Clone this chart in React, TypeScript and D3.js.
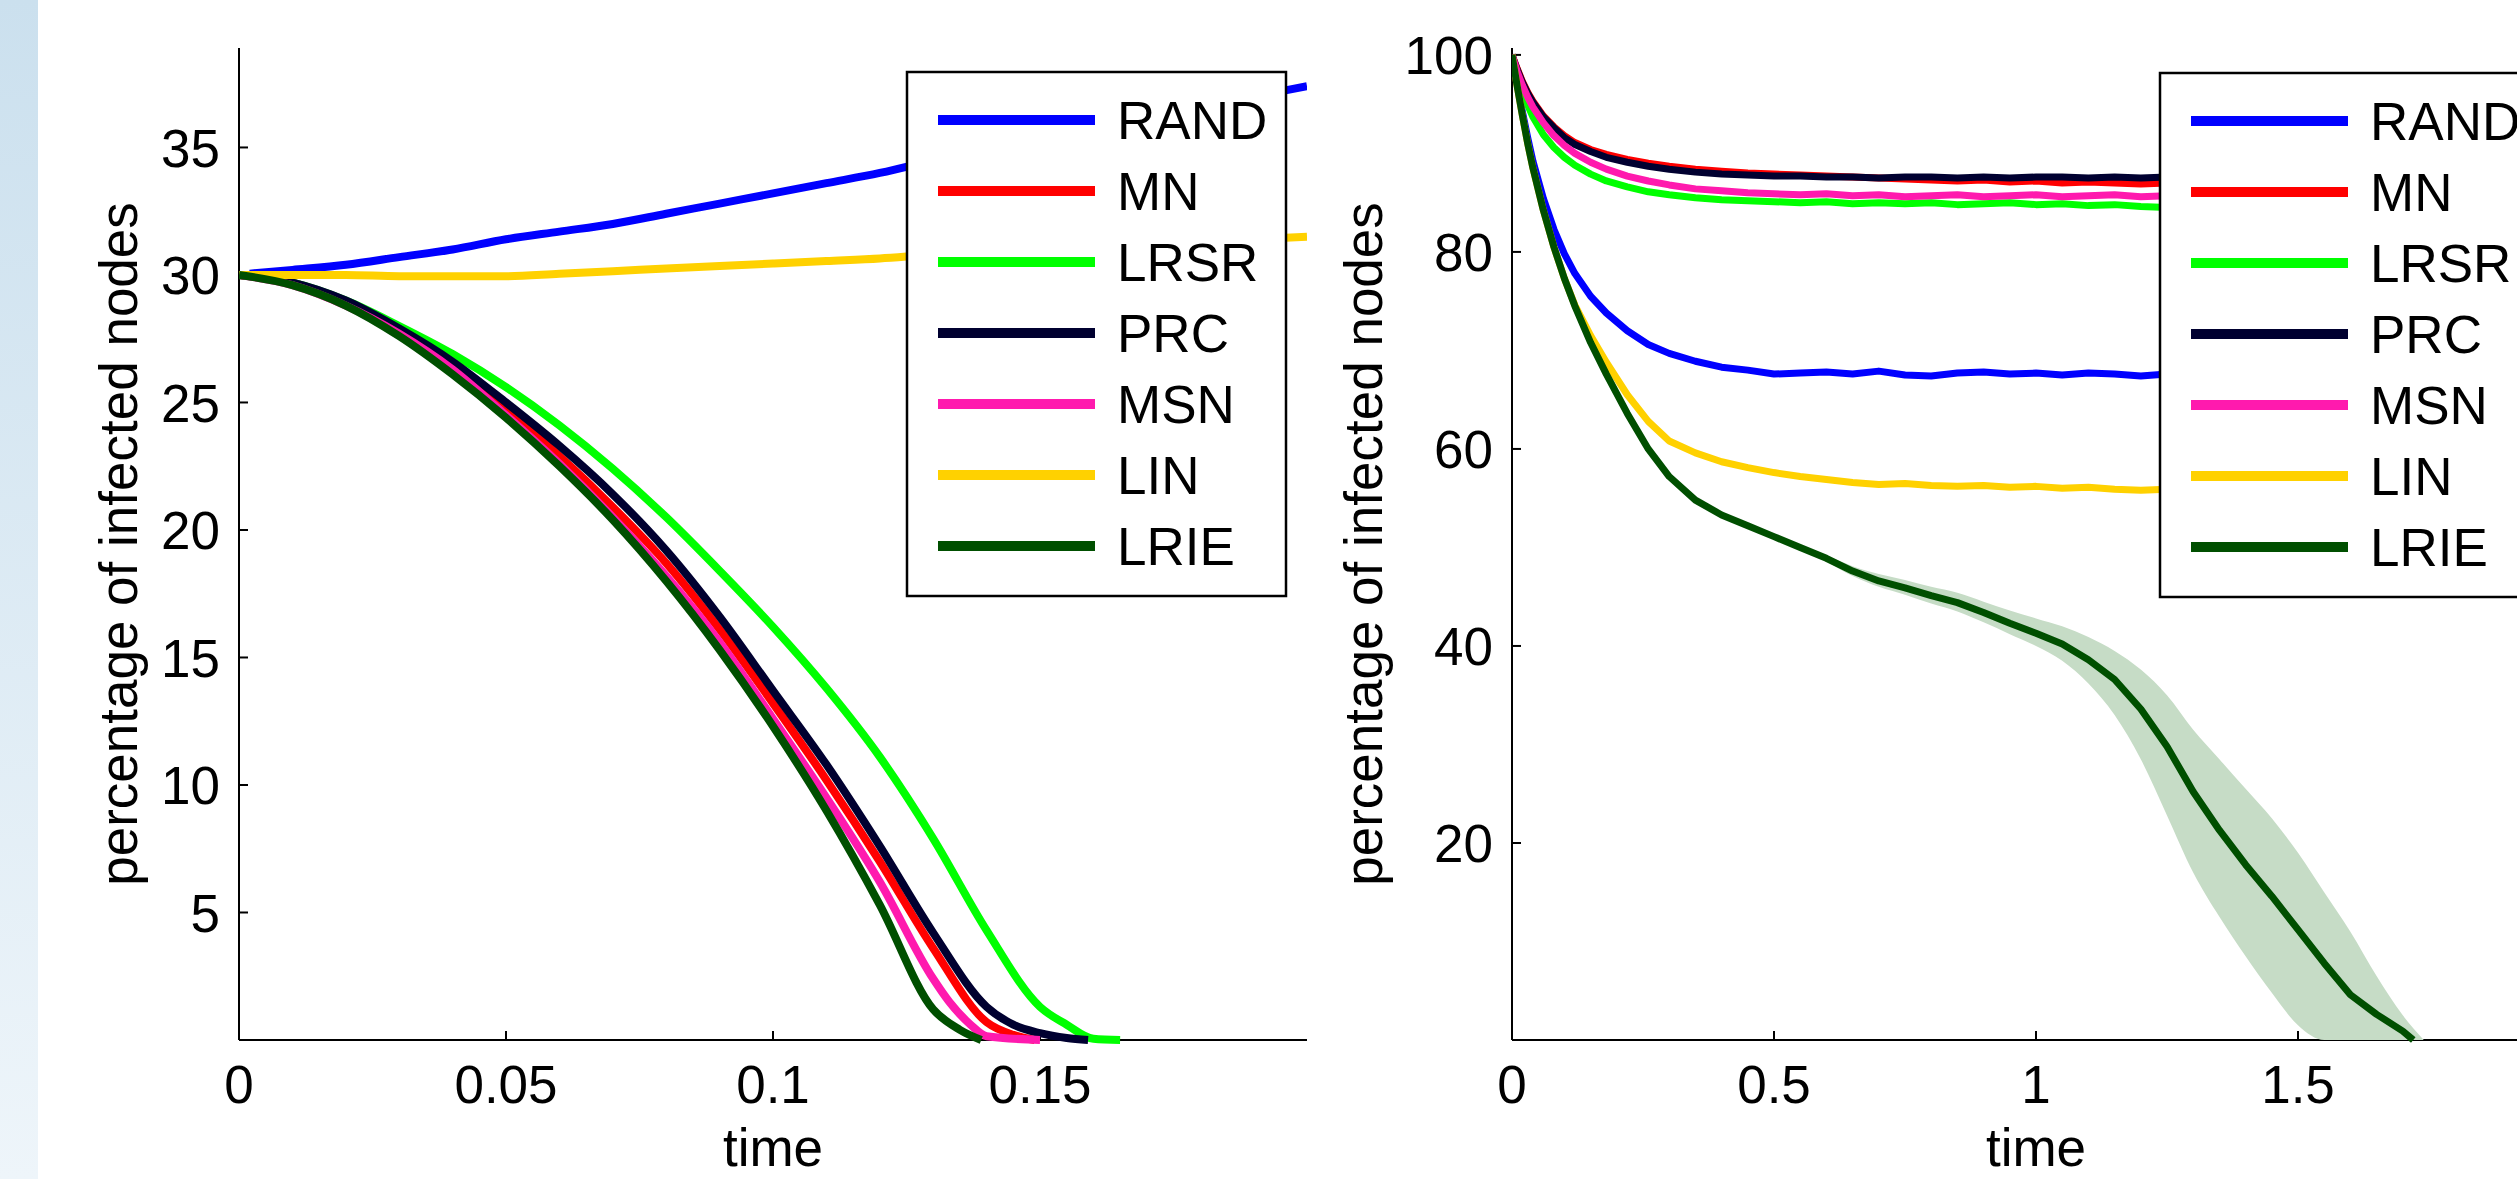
import React from "react";
import * as d3 from "d3";

// ---- data ----
const seriesNames = ["RAND", "MN", "LRSR", "PRC", "MSN", "LIN", "LRIE"];
const seriesColors = ["#0000ff", "#ff0000", "#00ff00", "#000030", "#ff1aae", "#ffd100", "#004f00"];

// left panel (short horizon)
const leftTicksX = [0, 0.05, 0.1, 0.15];
const leftTicksY = [5, 10, 15, 20, 25, 30, 35];

const leftRandT = [0.002, 0.01, 0.02, 0.03, 0.04, 0.05, 0.06, 0.07, 0.08, 0.09, 0.1, 0.11, 0.12, 0.13, 0.14, 0.15, 0.16, 0.17, 0.18, 0.19, 0.2];
const leftRandV = [30.05, 30.2, 30.4, 30.7, 31.0, 31.4, 31.7, 32.0, 32.4, 32.8, 33.2, 33.6, 34.0, 34.5, 35.0, 35.4, 35.8, 36.2, 36.6, 37.0, 37.4];

const leftLinT = [0, 0.01, 0.02, 0.03, 0.04, 0.05, 0.06, 0.07, 0.08, 0.09, 0.1, 0.11, 0.12, 0.13, 0.14, 0.15, 0.16, 0.17, 0.18, 0.19, 0.2];
const leftLinV = [30.0, 30.0, 30.0, 29.95, 29.95, 29.95, 30.05, 30.15, 30.25, 30.35, 30.45, 30.55, 30.65, 30.8, 30.9, 31.0, 31.1, 31.2, 31.3, 31.4, 31.5];

const leftMnT = [0, 0.01, 0.02, 0.03, 0.04, 0.05, 0.06, 0.07, 0.08, 0.09, 0.1, 0.11, 0.12, 0.13, 0.14, 0.145, 0.149];
const leftMnV = [30, 29.7, 28.9, 27.8, 26.4, 24.7, 22.9, 20.9, 18.7, 16.1, 13.2, 10.2, 7.0, 3.6, 0.7, 0.2, 0];

const leftPrcT = [0, 0.01, 0.02, 0.03, 0.04, 0.05, 0.06, 0.07, 0.08, 0.09, 0.1, 0.11, 0.12, 0.13, 0.14, 0.145, 0.15, 0.155, 0.159];
const leftPrcV = [30, 29.7, 29.0, 27.9, 26.6, 25.0, 23.3, 21.4, 19.2, 16.6, 13.7, 10.8, 7.6, 4.2, 1.3, 0.6, 0.27, 0.08, 0];

const leftMsnT = [0, 0.01, 0.02, 0.03, 0.04, 0.05, 0.06, 0.07, 0.08, 0.09, 0.1, 0.11, 0.12, 0.13, 0.133, 0.137, 0.14, 0.15];
const leftMsnV = [30, 29.6, 28.8, 27.7, 26.3, 24.5, 22.6, 20.5, 18.2, 15.6, 12.6, 9.5, 6.2, 2.4, 1.5, 0.6, 0.15, 0];

const leftLrsrT = [0, 0.01, 0.02, 0.03, 0.04, 0.05, 0.06, 0.07, 0.08, 0.09, 0.1, 0.11, 0.12, 0.13, 0.14, 0.15, 0.155, 0.16, 0.165];
const leftLrsrV = [30, 29.7, 29.0, 28.0, 26.9, 25.6, 24.1, 22.4, 20.5, 18.4, 16.2, 13.8, 11.1, 7.9, 4.3, 1.3, 0.6, 0.05, 0];

const leftLrieT = [0, 0.01, 0.02, 0.03, 0.04, 0.05, 0.06, 0.07, 0.08, 0.09, 0.1, 0.11, 0.12, 0.13, 0.135, 0.139];
const leftLrieV = [30, 29.6, 28.8, 27.6, 26.1, 24.4, 22.5, 20.4, 18.0, 15.3, 12.3, 9.0, 5.3, 1.2, 0.4, 0];

// right panel (long horizon)
const rightTicksX = [0, 0.5, 1, 1.5];
const rightTicksY = [20, 40, 60, 80, 100];

const rightT = [0, 0.01, 0.02, 0.03, 0.04, 0.06, 0.08, 0.1, 0.12, 0.15, 0.18, 0.22, 0.26, 0.3, 0.35, 0.4, 0.45, 0.5, 0.55, 0.6, 0.65, 0.7, 0.75, 0.8, 0.85, 0.9, 0.95, 1.0, 1.05, 1.1, 1.15, 1.2, 1.25, 1.3];
const rightRand = [100, 97.0, 94.2, 91.6, 89.2, 85.4, 82.3, 79.8, 77.8, 75.5, 73.8, 72.0, 70.6, 69.7, 68.9, 68.3, 68.0, 67.6, 67.7, 67.8, 67.6, 67.9, 67.5, 67.4, 67.7, 67.8, 67.6, 67.7, 67.5, 67.7, 67.6, 67.4, 67.6, 67.5];
const rightMn = [100, 98.6, 97.3, 96.2, 95.3, 93.8, 92.7, 91.8, 91.1, 90.4, 89.9, 89.4, 89.0, 88.7, 88.4, 88.2, 88.0, 87.9, 87.8, 87.7, 87.6, 87.5, 87.4, 87.3, 87.2, 87.3, 87.1, 87.2, 87.0, 87.1, 87.0, 86.9, 87.0, 86.9];
const rightLrsr = [100, 98.0, 96.3, 94.9, 93.7, 91.9, 90.6, 89.6, 88.8, 87.9, 87.2, 86.6, 86.1, 85.8, 85.5, 85.3, 85.2, 85.1, 85.0, 85.1, 84.9, 85.0, 84.9, 85.0, 84.8, 84.9, 85.0, 84.8, 84.9, 84.7, 84.8, 84.6, 84.5, 84.6];
const rightPrc = [100, 98.5, 97.2, 96.1, 95.2, 93.7, 92.6, 91.6, 90.9, 90.2, 89.6, 89.1, 88.7, 88.4, 88.1, 87.9, 87.8, 87.7, 87.7, 87.6, 87.6, 87.5, 87.6, 87.6, 87.5, 87.6, 87.5, 87.6, 87.6, 87.5, 87.6, 87.5, 87.6, 87.5];
const rightMsn = [100, 98.3, 96.9, 95.7, 94.7, 93.1, 91.8, 90.8, 90.0, 89.1, 88.4, 87.7, 87.2, 86.8, 86.4, 86.2, 86.0, 85.9, 85.8, 85.9, 85.7, 85.8, 85.6, 85.7, 85.8, 85.6, 85.7, 85.8, 85.6, 85.7, 85.8, 85.6, 85.7, 85.7];
const rightLin = [100, 96.8, 93.8, 91.0, 88.5, 84.2, 80.5, 77.3, 74.6, 71.5, 68.8, 65.5, 62.8, 60.8, 59.6, 58.7, 58.1, 57.6, 57.2, 56.9, 56.6, 56.4, 56.5, 56.3, 56.2, 56.3, 56.1, 56.2, 56.0, 56.1, 55.9, 55.8, 55.9, 55.8];

const rightLrieT = [0, 0.01, 0.02, 0.03, 0.04, 0.06, 0.08, 0.1, 0.12, 0.15, 0.18, 0.22, 0.26, 0.3, 0.35, 0.4, 0.45, 0.5, 0.55, 0.6, 0.65, 0.7, 0.75, 0.8, 0.85, 0.9, 0.95, 1.0, 1.05, 1.1, 1.15, 1.2, 1.25, 1.3, 1.35, 1.4, 1.45, 1.5, 1.55, 1.6, 1.65, 1.7, 1.72];
const rightLrie = [100, 96.8, 93.8, 91.0, 88.5, 84.2, 80.5, 77.3, 74.5, 70.8, 67.6, 63.6, 60.0, 57.2, 54.8, 53.3, 52.2, 51.1, 50.0, 48.9, 47.6, 46.6, 45.9, 45.1, 44.4, 43.4, 42.3, 41.3, 40.2, 38.6, 36.6, 33.6, 29.8, 25.2, 21.3, 17.8, 14.6, 11.2, 7.8, 4.6, 2.6, 0.9, 0];

// spread band around LRIE
const bandT = [0.6, 0.65, 0.7, 0.75, 0.8, 0.85, 0.9, 0.95, 1.0, 1.05, 1.1, 1.15, 1.2, 1.25, 1.3, 1.35, 1.4, 1.45, 1.5, 1.55, 1.6, 1.65, 1.7, 1.74];
const bandLow = [48.6, 47.1, 46.0, 45.2, 44.3, 43.5, 42.4, 41.2, 40.0, 38.5, 36.2, 33.0, 28.5, 22.8, 17.0, 12.5, 8.5, 4.8, 1.5, 0, 0, 0, 0, 0];
const bandHigh = [49.2, 48.1, 47.3, 46.7, 46.0, 45.4, 44.5, 43.6, 42.8, 42.0, 40.9, 39.5, 37.6, 35.0, 31.5, 28.5, 25.5, 22.5, 19.0, 15.0, 11.0, 6.5, 2.5, 0];

const W = 2517;
const H = 1179;
const FONT = "'Liberation Sans', Arial, sans-serif";
const FS = 53;

const zip = (t, v) => t.map((d, i) => [d, v[i]]);

function Panel({ id, xRange, xDomain, yDomain, xTicks, yTicks, series, band, labelX, legendX, legendY, lineWidth, curve }) {
  const top = 48, bottom = 1040;
  const x = d3.scaleLinear().domain(xDomain).range(xRange);
  const y = d3.scaleLinear().domain(yDomain).range([bottom, top]);
  const line = d3.line().curve(curve).x((d) => x(d[0])).y((d) => y(d[1]));
  const area = band
    ? d3.area().curve(d3.curveMonotoneX).x((d) => x(d.t)).y0((d) => y(d.lo)).y1((d) => y(d.hi))(
        band.t.map((t, i) => ({ t, lo: band.lo[i], hi: band.hi[i] }))
      )
    : null;
  const cx = (xRange[0] + xRange[1]) / 2;
  const legendW = 379, legendH = 524, rowH = 71;

  return (
    <g>
      <defs>
        <clipPath id={id}>
          <rect x={xRange[0]} y={top} width={xRange[1] - xRange[0]} height={bottom - top + 6} />
        </clipPath>
      </defs>

      {/* axes, ticks point inward */}
      <line x1={xRange[0]} x2={xRange[0]} y1={top} y2={bottom} stroke="#000" strokeWidth={2} />
      <line x1={xRange[0]} x2={xRange[1]} y1={bottom} y2={bottom} stroke="#000" strokeWidth={2} />
      {yTicks.map((t) => (
        <g key={"y" + t}>
          <line x1={xRange[0]} x2={xRange[0] + 9} y1={y(t)} y2={y(t)} stroke="#000" strokeWidth={2} />
          <text x={xRange[0] - 19} y={y(t)} dy="0.36em" textAnchor="end" fontSize={FS} fontFamily={FONT}>{t}</text>
        </g>
      ))}
      {xTicks.map((t) => (
        <g key={"x" + t}>
          <line x1={x(t)} x2={x(t)} y1={bottom} y2={bottom - 9} stroke="#000" strokeWidth={2} />
          <text x={x(t)} y={1103} textAnchor="middle" fontSize={FS} fontFamily={FONT}>{String(t)}</text>
        </g>
      ))}
      <text x={cx} y={1166} textAnchor="middle" fontSize={FS} fontFamily={FONT}>time</text>
      <text transform={`translate(${labelX},544) rotate(-90)`} dy="0.26em" textAnchor="middle" fontSize={FS} fontFamily={FONT}>
        percentage of infected nodes
      </text>

      {/* curves */}
      <g clipPath={`url(#${id})`}>
        {area && <path d={area} fill="#c6dcc6" />}
        {series.map((s, i) => (
          <path key={i} d={line(s)} fill="none" stroke={seriesColors[i]} strokeWidth={lineWidth} strokeLinejoin="round" />
        ))}
      </g>

      {/* legend */}
      <rect x={legendX} y={legendY} width={legendW} height={legendH} fill="#fff" stroke="#000" strokeWidth={2.5} />
      {seriesNames.map((n, i) => {
        const ly = legendY + 48 + i * rowH;
        return (
          <g key={n}>
            <line x1={legendX + 31} x2={legendX + 188} y1={ly} y2={ly} stroke={seriesColors[i]} strokeWidth={10} />
            <text x={legendX + 210} y={ly} dy="0.36em" fontSize={FS} fontFamily={FONT}>{n}</text>
          </g>
        );
      })}
    </g>
  );
}

export default function App() {
  const leftSeries = [
    zip(leftRandT, leftRandV),
    zip(leftMnT, leftMnV),
    zip(leftLrsrT, leftLrsrV),
    zip(leftPrcT, leftPrcV),
    zip(leftMsnT, leftMsnV),
    zip(leftLinT, leftLinV),
    zip(leftLrieT, leftLrieV),
  ];
  const rightSeries = [
    zip(rightT, rightRand),
    zip(rightT, rightMn),
    zip(rightT, rightLrsr),
    zip(rightT, rightPrc),
    zip(rightT, rightMsn),
    zip(rightT, rightLin),
    zip(rightLrieT, rightLrie),
  ];

  return (
    <svg width={W} height={H} style={{ position: "absolute", left: 0, top: 0, background: "#fff" }}>
      <defs>
        <linearGradient id="strip" x1="0" y1="0" x2="0" y2="1">
          <stop offset="0" stopColor="#cbe0ee" />
          <stop offset="1" stopColor="#eef5fa" />
        </linearGradient>
      </defs>
      <rect x={0} y={0} width={W} height={H} fill="#fff" />
      <rect x={0} y={0} width={38} height={H} fill="url(#strip)" />

      <Panel
        id="clipL"
        xRange={[239, 1307]}
        xDomain={[0, 0.2]}
        yDomain={[0, 38.9]}
        xTicks={leftTicksX}
        yTicks={leftTicksY}
        series={leftSeries}
        band={null}
        labelX={123}
        legendX={907}
        legendY={72}
        lineWidth={8}
        curve={d3.curveMonotoneX}
      />
      <Panel
        id="clipR"
        xRange={[1512, 2560]}
        xDomain={[0, 2]}
        yDomain={[0, 100.7]}
        xTicks={rightTicksX}
        yTicks={rightTicksY}
        series={rightSeries}
        band={{ t: bandT, lo: bandLow, hi: bandHigh }}
        labelX={1368}
        legendX={2160}
        legendY={73}
        lineWidth={7}
        curve={d3.curveLinear}
      />
    </svg>
  );
}
